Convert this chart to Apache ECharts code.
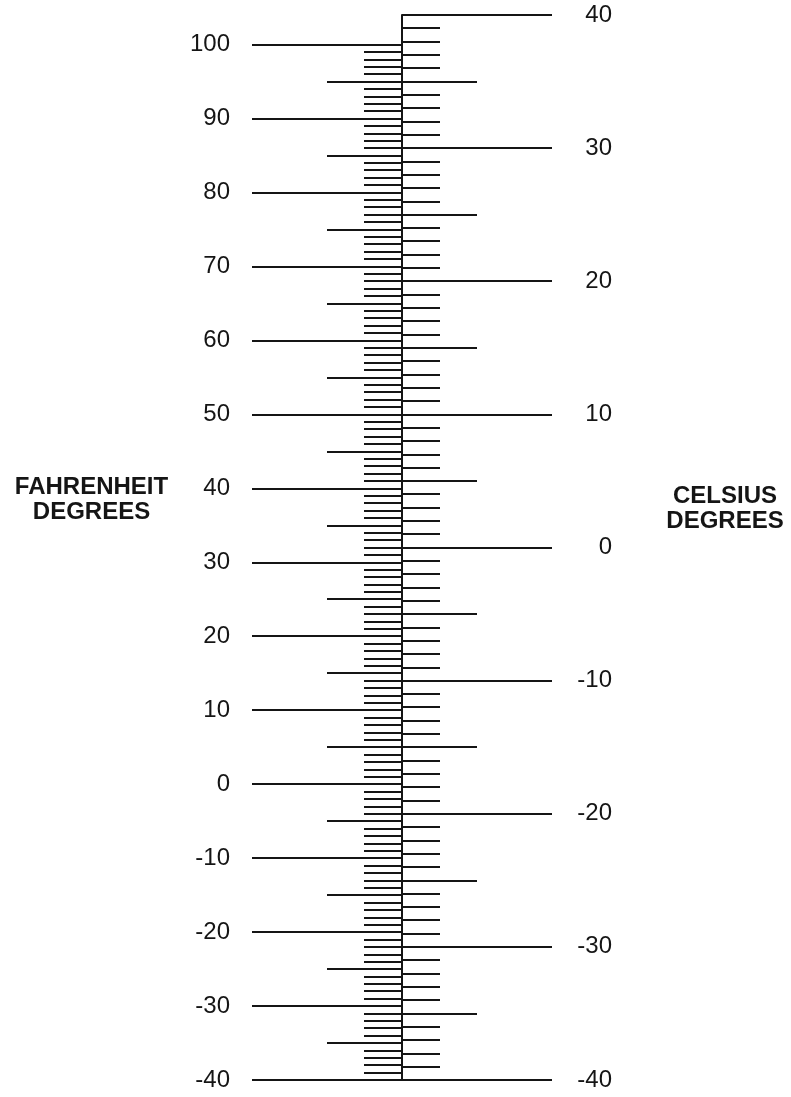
<!DOCTYPE html>
<html>
<head>
<meta charset="utf-8">
<script src="https://cdn.jsdelivr.net/npm/echarts@6/dist/echarts.min.js"></script>
<style>
html,body{margin:0;padding:0;background:#fff;}
#chart{width:791px;height:1097px;}
</style>
</head>
<body>
<div id="chart"></div>
<script>
// ---- data ----
const fahrenheitLabels = [-40, -30, -20, -10, 0, 10, 20, 30, 40, 50, 60, 70, 80, 90, 100];
const celsiusLabels = [-40, -30, -20, -10, 0, 10, 20, 30, 40];
const tickIntervals = [10, 5, 1];          // major, medium, minor (degrees)
const tickLengths = [150, 75, 38];         // px
const fahrenheitTitle = 'FAHRENHEIT\nDEGREES';
const celsiusTitle = 'CELSIUS\nDEGREES';

// ---- layout ----
const axisX = 402;
const bottomY = 1080;
const fMin = fahrenheitLabels[0], fMax = fahrenheitLabels[fahrenheitLabels.length - 1];
const cMin = celsiusLabels[0], cMax = celsiusLabels[celsiusLabels.length - 1];
const fTopY = 44.5;
const pxPerF = (bottomY - fTopY) / (fMax - fMin);
const cTopY = bottomY - pxPerF * 1.8 * (cMax - cMin);
const ink = '#151515';
const fontFamily = '"Liberation Sans", Arial, Helvetica, sans-serif';

const grids = [], xAxes = [], yAxes = [];

function addAxis(isF, level) {
  const idx = grids.length;
  const top = isF ? fTopY : cTopY;
  grids.push({ left: axisX, width: 200, top: top, height: bottomY - top,
               containLabel: false, outerBoundsMode: 'none' });
  xAxes.push({ gridIndex: idx, type: 'value', show: false, min: 0, max: 1 });
  const labels = isF ? fahrenheitLabels : celsiusLabels;
  yAxes.push({
    gridIndex: idx,
    type: 'value',
    position: 'left',
    min: labels[0],
    max: labels[labels.length - 1],
    interval: tickIntervals[level],
    splitLine: { show: false },
    axisLine: { show: (!isF && level === 0), lineStyle: { color: ink, width: 2 } },
    axisTick: { show: true, inside: !isF, length: tickLengths[level],
                lineStyle: { color: ink, width: 1.8 } },
    axisLabel: {
      show: level === 0,
      inside: !isF,
      margin: isF ? 172 : 210,
      align: 'right',
      color: ink,
      fontSize: 24,
      fontFamily: fontFamily,
      formatter: function (v) { return labels.indexOf(v) >= 0 ? String(v) : ''; }
    }
  });
}

[0, 1, 2].forEach(l => addAxis(true, l));
[0, 1, 2].forEach(l => addAxis(false, l));

const chart = echarts.init(document.getElementById('chart'), null, { renderer: 'canvas' });
chart.setOption({
  backgroundColor: '#fff',
  animation: false,
  grid: grids,
  xAxis: xAxes,
  yAxis: yAxes,
  series: [],
  graphic: [
    {
      type: 'text', x: 91.5, y: 499.5,
      style: { text: fahrenheitTitle, fill: ink, font: 'bold 24px ' + fontFamily,
               textAlign: 'center', textVerticalAlign: 'middle', lineHeight: 25 }
    },
    {
      type: 'text', x: 725, y: 509,
      style: { text: celsiusTitle, fill: ink, font: 'bold 24px ' + fontFamily,
               textAlign: 'center', textVerticalAlign: 'middle', lineHeight: 25 }
    }
  ]
});
</script>
</body>
</html>
